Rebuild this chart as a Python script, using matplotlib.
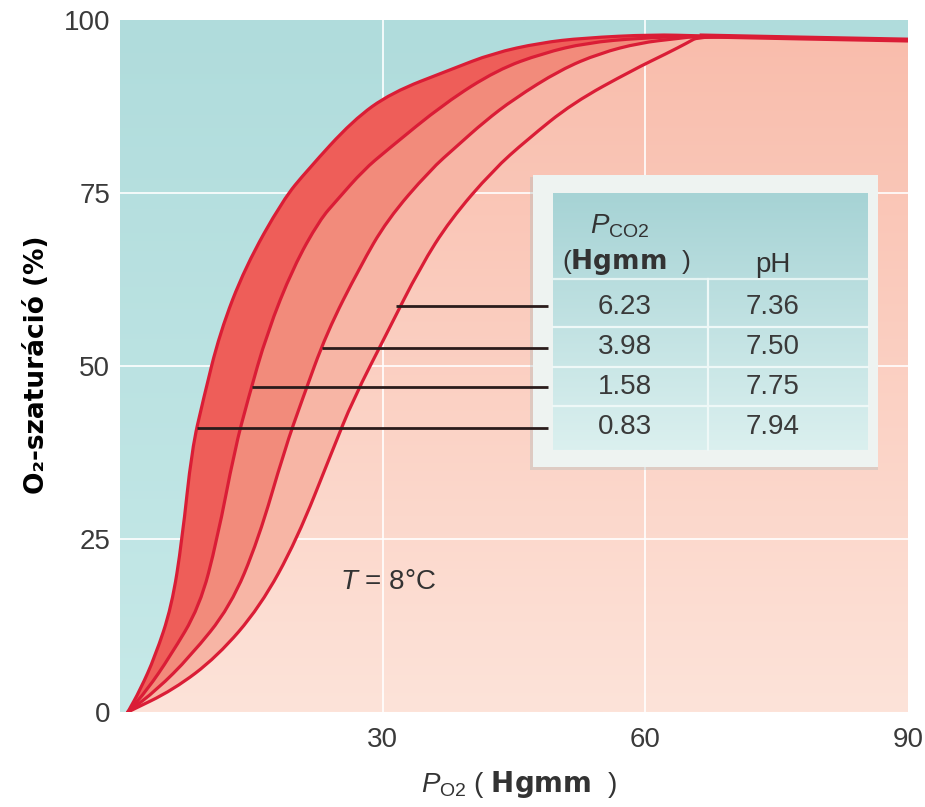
import numpy as np
import matplotlib.pyplot as plt
from matplotlib.patches import Rectangle, PathPatch
from matplotlib.path import Path
from matplotlib.colors import to_rgb

plt.rcParams['font.family'] = ['Liberation Sans', 'DejaVu Sans']
plt.rcParams['mathtext.fontset'] = 'custom'
plt.rcParams['mathtext.rm'] = 'Liberation Sans'
plt.rcParams['mathtext.it'] = 'Liberation Sans:italic'
plt.rcParams['mathtext.bf'] = 'DejaVu Sans:bold'

# O2 dissociation curves, P_O2 (Hgmm) vs saturation (%), low -> high CO2
a_x = [0.9, 2.3, 4.0, 5.9, 7.1, 8.2, 9.5, 11.4, 14.3, 18.6, 21.4, 26.6, 31.0, 37.7, 42.6, 48.0, 52.9, 60.9, 66.2]
a_y = [0.0, 3.2, 8.0, 15.2, 24.9, 37.9, 45.1, 54.8, 64.3, 74.0, 78.3, 85.5, 89.5, 92.8, 95.2, 96.7, 97.4, 97.9, 97.7]
b_x = [0.9, 3.1, 5.7, 9.1, 11.1, 13.1, 14.6, 16.8, 19.8, 22.8, 24.8, 27.8, 30.5, 37.1, 43.1, 48.3, 53.3, 59.4, 66.2]
b_y = [0.0, 3.2, 8.0, 15.2, 24.9, 37.9, 45.1, 54.8, 64.3, 71.1, 74.0, 78.3, 81.2, 88.0, 92.8, 95.2, 96.7, 97.4, 97.7]
c_x = [0.9, 4.2, 8.0, 12.6, 15.8, 18.8, 20.8, 23.6, 27.4, 30.5, 35.4, 38.5, 41.6, 45.0, 50.3, 54.8, 59.4, 63.5, 66.2]
c_y = [0.0, 3.2, 8.0, 15.2, 24.9, 37.9, 45.1, 54.8, 64.3, 71.1, 78.3, 81.8, 85.3, 88.6, 92.8, 95.2, 96.7, 97.3, 97.7]
d_x = [0.9, 6.1, 11.1, 16.0, 20.2, 24.3, 26.6, 30.5, 34.3, 37.7, 42.6, 46.5, 51.7, 58.6, 62.5, 64.8, 66.2]
d_y = [0.0, 3.2, 8.0, 15.2, 24.9, 37.9, 45.1, 54.8, 64.3, 71.1, 78.3, 82.7, 88.0, 92.8, 95.2, 96.7, 97.7]
# common plateau after the curves meet
tail_x = [77.7, 90.0]
tail_y = [97.4, 97.1]

# table: P_CO2 (Hgmm) and pH, top row = rightmost curve
pco2 = ['6.23', '3.98', '1.58', '0.83']
ph = ['7.36', '7.50', '7.75', '7.94']
# pointer lines from each curve to its table row
ptr_y = [58.7, 52.6, 47.0, 41.0]
ptr_x0 = [31.5, 23.1, 15.1, 8.8]
ptr_x1 = 48.9

curves = []
for xs, ys in [(a_x, a_y), (b_x, b_y), (c_x, c_y), (d_x, d_y)]:
    curves.append(np.column_stack([xs + tail_x, ys + tail_y]))

band_colors = ['#ee5e59', '#f28b7b', '#f7b5a5']
line_color = '#da1d36'


def smooth_path(pts, start=Path.MOVETO):
    # quadratic pieces: read points are control points, passes through midpoints
    verts = [pts[0], (pts[0] + pts[1]) / 2]
    codes = [start, Path.LINETO]
    for i in range(1, len(pts) - 1):
        verts += [pts[i], (pts[i] + pts[i + 1]) / 2]
        codes += [Path.CURVE3, Path.CURVE3]
    verts.append(pts[-1])
    codes.append(Path.LINETO)
    return verts, codes


def vgrad(c_top, c_bot, n=256):
    t = np.linspace(0, 1, n)[:, None, None]
    a = np.array(to_rgb(c_top))[None, None, :]
    b = np.array(to_rgb(c_bot))[None, None, :]
    return a * (1 - t) + b * t


fig = plt.figure(figsize=(9.25, 8.07), dpi=100)
ax = fig.add_axes([120 / 925, 95 / 807, 788 / 925, 692 / 807])
ax.set_xlim(0, 90)
ax.set_ylim(0, 100)

# background: teal everywhere, pink under the rightmost curve
ax.imshow(vgrad('#b0dcdc', '#c6e9e8'), extent=(0, 90, 0, 100), origin='upper',
          aspect='auto', zorder=0)
v, c = smooth_path(curves[3])
v += [np.array([90.0, 0.0]), np.array([0.9, 0.0]), curves[3][0]]
c += [Path.LINETO, Path.LINETO, Path.CLOSEPOLY]
pink_clip = PathPatch(Path(v, c), facecolor='none', edgecolor='none')
ax.add_patch(pink_clip)
pink = ax.imshow(vgrad('#f9bcab', '#fde3d9'), extent=(0, 90, 0, 100), origin='upper',
                 aspect='auto', zorder=0.5)
pink.set_clip_path(pink_clip)

for xv in [30, 60]:
    ax.axvline(xv, color='white', lw=1.4, alpha=0.85, zorder=1)
for yv in [25, 50, 75]:
    ax.axhline(yv, color='white', lw=1.4, alpha=0.85, zorder=1)

# bands between neighbouring curves
for i in range(3):
    v1, c1 = smooth_path(curves[i])
    v2, c2 = smooth_path(curves[i + 1][::-1], start=Path.LINETO)
    verts = v1 + v2 + [curves[i][0]]
    codes = c1 + c2 + [Path.CLOSEPOLY]
    ax.add_patch(PathPatch(Path(verts, codes), facecolor=band_colors[i],
                           edgecolor='none', zorder=2))

for pts in curves:
    v, c = smooth_path(pts)
    ax.add_patch(PathPatch(Path(v, c), facecolor='none', edgecolor=line_color,
                           lw=2.3, joinstyle='round', capstyle='round', zorder=5))
# the merged plateau reads as one thicker line
ax.plot([a_x[-1]] + tail_x, [a_y[-1]] + tail_y, color=line_color, lw=3.6,
        solid_capstyle='butt', zorder=5)

ax.hlines(ptr_y, ptr_x0, ptr_x1, color='#2a1c1c', lw=2.0, zorder=9)

ax.text(30.6, 18.8, r'$T$ = 8°C', fontsize=20, color='#333333',
        ha='center', va='center', zorder=6)


# table box, laid out in axes fractions from picture pixels
def fx(px):
    return (px - 120) / 788


def fy(py):
    return (712 - py) / 692


ax.add_patch(Rectangle((fx(530), fy(470)), fx(878) - fx(530), fy(177) - fy(470),
                       transform=ax.transAxes, facecolor='#a9b9bb', alpha=0.35,
                       edgecolor='none', zorder=7))
ax.add_patch(Rectangle((fx(533), fy(467)), fx(878) - fx(533), fy(175) - fy(467),
                       transform=ax.transAxes, facecolor='#eef3f1',
                       edgecolor='none', zorder=7.2))
ax.imshow(vgrad('#a6d3d5', '#dbf0ef'), extent=(fx(553), fx(868), fy(450), fy(193)),
          origin='upper', aspect='auto', transform=ax.transAxes, zorder=8)
ax.plot([fx(553), fx(868)], [fy(279), fy(279)], transform=ax.transAxes,
        color='#e6f4f3', lw=1.6, zorder=8.5)
for py in [327, 367, 406]:
    ax.plot([fx(553), fx(868)], [fy(py), fy(py)], transform=ax.transAxes,
            color='#eef8f7', lw=1.6, zorder=8.5)
ax.plot([fx(708), fx(708)], [fy(279), fy(450)], transform=ax.transAxes,
        color='#eef8f7', lw=1.6, zorder=8.5)

ax.text(fx(620), fy(226), r'$P_{\mathrm{CO2}}$', transform=ax.transAxes,
        fontsize=20, color='#333333', ha='center', va='center', zorder=10)
ax.text(fx(626), fy(262), r'($\mathbf{Hgmm}$  )', transform=ax.transAxes,
        fontsize=19, color='#333333', ha='center', va='center', zorder=10)
ax.text(fx(773), fy(265), 'pH', transform=ax.transAxes,
        fontsize=20, color='#333333', ha='center', va='center', zorder=10)
for i in range(len(pco2)):
    yy = fy(307 + 40 * i)
    ax.text(fx(625), yy, pco2[i], transform=ax.transAxes, fontsize=20,
            color='#3a3a3a', ha='center', va='center', zorder=10)
    ax.text(fx(773), yy, ph[i], transform=ax.transAxes, fontsize=20,
            color='#3a3a3a', ha='center', va='center', zorder=10)

# axes styling
ax.set_xticks([30, 60, 90])
ax.set_yticks([0, 25, 50, 75, 100])
ax.tick_params(axis='both', length=0, labelsize=20, labelcolor='#3a3a3a')
ax.tick_params(axis='y', pad=7)
ax.tick_params(axis='x', pad=11)
for s in ax.spines.values():
    s.set_visible(False)

ax.text(fx(37), fy(365), 'O₂-szaturáció (%)', transform=ax.transAxes,
        fontsize=19, fontweight='bold', family='DejaVu Sans', rotation=90,
        ha='center', va='center', color='black')
ax.text(fx(519), fy(785), r'$P_{\mathrm{O2}}$ ( $\mathbf{Hgmm}$  )',
        transform=ax.transAxes, fontsize=20, color='#333333',
        ha='center', va='center')

ax.set_xlim(0, 90)
ax.set_ylim(0, 100)
fig.savefig('out.png', dpi=100)
